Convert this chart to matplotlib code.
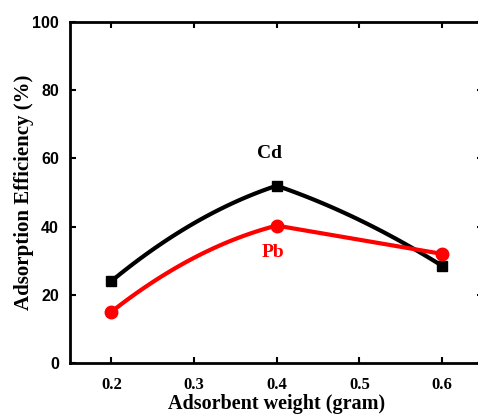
import matplotlib
matplotlib.use('Agg')
import matplotlib.pyplot as plt
import numpy as np

# data
weight = [0.2, 0.4, 0.6]
cd = [24, 52, 28.5]
pb = [15, 40.3, 32]
# how far each connecting segment bows above its chord at mid-span
cd_bow = [3.0, 1.7]
pb_bow = [3.2, 0.0]
x_ticks = [0.2, 0.3, 0.4, 0.5, 0.6]
y_ticks = [0, 20, 40, 60, 80, 100]


def bowed_line(x, y, bow, n=60):
    # join the points with segments that arc slightly above the straight chord
    xs, ys = [], []
    for i in range(len(x) - 1):
        t = np.linspace(0, 1, n)
        xs.append(x[i] + (x[i + 1] - x[i]) * t)
        ys.append(y[i] + (y[i + 1] - y[i]) * t + 4 * bow[i] * t * (1 - t))
    return np.concatenate(xs), np.concatenate(ys)


fig = plt.figure(figsize=(4.78, 4.16), dpi=100)
ax = fig.add_axes([0.1464, 0.1274, 0.865, 0.8196])

xs, ys = bowed_line(weight, cd, cd_bow)
ax.plot(xs, ys, color='black', lw=3, solid_joinstyle='round')
ax.plot(weight, cd, 's', color='black', ms=7)

xs, ys = bowed_line(weight, pb, pb_bow)
ax.plot(xs, ys, color='red', lw=3, solid_joinstyle='round')
ax.plot(weight, pb, 'o', color='red', ms=9)

ax.text(0.391, 61.3, 'Cd', color='black', fontsize=14, fontweight='bold',
        family='Liberation Serif', ha='center', va='center')
ax.text(0.395, 32.5, 'Pb', color='red', fontsize=14, fontweight='bold',
        family='Liberation Serif', ha='center', va='center')

ax.set_xlim(0.15, 0.65)
ax.set_ylim(0, 100)
ax.set_xticks(x_ticks)
ax.set_yticks(y_ticks)
ax.set_xticklabels([str(v) for v in x_ticks], fontsize=12, fontweight='bold',
                   family='Liberation Serif')
ax.set_yticklabels([str(v) for v in y_ticks], fontsize=11.5, fontweight='bold',
                   family='Liberation Sans')
ax.tick_params(direction='in', length=4, width=1.5, top=True, right=True)
ax.tick_params(axis='x', pad=10)
ax.tick_params(axis='y', pad=8)
for s in ax.spines.values():
    s.set_linewidth(2)

ax.set_xlabel('Adsorbent weight (gram)', fontsize=14.5, fontweight='bold',
              family='Liberation Serif', labelpad=1)
ax.set_ylabel('Adsorption Efficiency (%)', fontsize=15, fontweight='bold',
              family='Liberation Serif', labelpad=-1)

plt.savefig('out.png', dpi=100)
